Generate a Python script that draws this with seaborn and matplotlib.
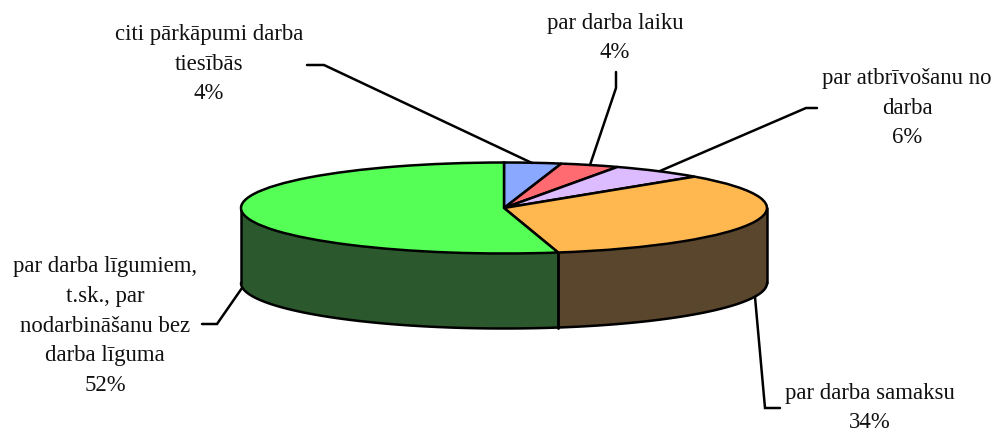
import numpy as np
import seaborn as sns
import matplotlib.pyplot as plt

labels = ["citi pārkāpumi darba\ntiesībās\n4%", "par darba laiku\n4%", "par atbrīvošanu no\ndarba\n6%",
          "par darba samaksu\n34%", "par darba līgumiem,\nt.sk., par\nnodarbināšanu bez\ndarba līguma\n52%"]
# slice sizes fitted to the drawn angles, the printed percents are rounded
values = [3.5, 3.6, 5.8, 33.8, 53.3]
top_colors = ["#8AA8FF", "#FF6B70", "#DDBBFF", "#FFB850", "#55FF55"]
side_colors = ["#45547F", "#7F3538", "#6E5D7F", "#5A462D", "#2B582D"]
label_x = [209, 615, 907, 870, 105]
label_y = [64, 38, 108, 408, 326]
leaders = [([307, 324, 532], [65, 65, 163]),
           ([616, 616, 590], [72, 88, 165]),
           ([817, 806, 660], [108, 108, 171]),
           ([780, 765, 755], [408, 408, 297]),
           ([202, 217, 242], [324, 324, 288])]

cx, cy, rx, ry, depth = 504, 208, 263, 45.5, 75

sns.set_theme(style="white")
plt.rcParams["font.family"] = ["Liberation Serif", "DejaVu Serif"]

fig = plt.figure(figsize=(9.97, 4.32), dpi=100)
ax = fig.add_axes([0, 0, 1, 1])
palette = sns.color_palette(top_colors)
ax.pie(values, colors=palette, startangle=90, counterclock=False, radius=1,
       wedgeprops=dict(edgecolor="black", linewidth=1.8, zorder=3))
ax.set_aspect("auto")
ax.set_xlim(-cx / rx, (997 - cx) / rx)
ax.set_ylim((cy - 432) / ry, cy / ry)

# walls of the disc, only where a slice is on the front half
edges = 90 - 3.6 * np.cumsum([0] + values)
d = depth / ry
for i, col in enumerate(side_colors):
    a1 = min(edges[i], 0)
    a2 = max(edges[i + 1], -180)
    if a1 <= a2:
        continue
    t = np.radians(np.linspace(a1, a2, 100))
    ax.fill_between(np.cos(t), np.sin(t), np.sin(t) - d, color=col, lw=0, zorder=1)
    ax.plot(np.cos(t), np.sin(t) - d, color="black", lw=1.8, zorder=2)
    for e in (t[0], t[-1]):
        ax.plot([np.cos(e)] * 2, [np.sin(e), np.sin(e) - d], color="black", lw=1.8, zorder=2)

# labels and leader lines in pixel coordinates
over = fig.add_axes([0, 0, 1, 1])
over.set_xlim(0, 997)
over.set_ylim(432, 0)
over.axis("off")
for lab, x, y, (lx, ly) in zip(labels, label_x, label_y, leaders):
    over.plot(lx, ly, color="black", lw=1.8, solid_joinstyle="miter")
    over.text(x, y, lab, ha="center", va="center", fontsize=16.4, color="#111111", linespacing=1.56)

fig.savefig("out.png", dpi=100)
